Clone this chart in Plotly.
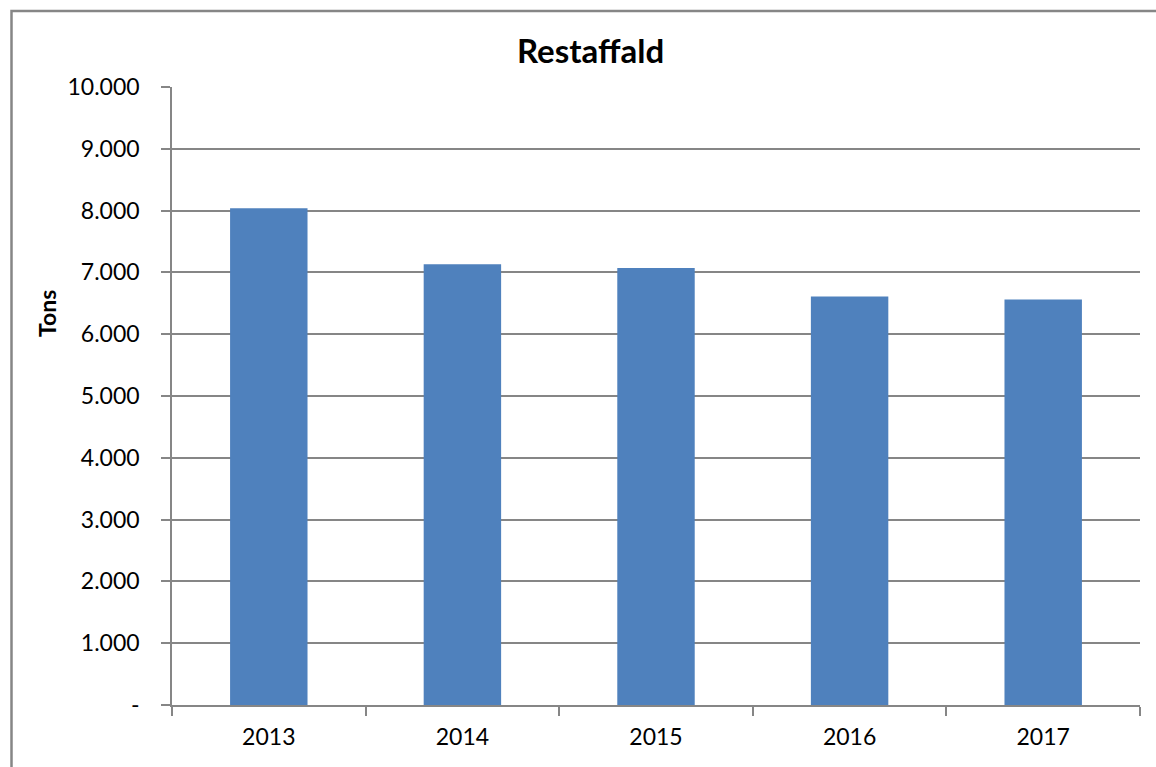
import plotly.graph_objects as go

years = ["2013", "2014", "2015", "2016", "2017"]
tons = [8040, 7130, 7070, 6610, 6560]
y_tickvals = [0, 1000, 2000, 3000, 4000, 5000, 6000, 7000, 8000, 9000, 10000]
y_ticktext = ["-", "1.000", "2.000", "3.000", "4.000", "5.000", "6.000", "7.000", "8.000", "9.000", "10.000"]

W, H = 1156, 767
L, R, T, B = 172, 16, 87, 62
pw, ph = W - L - R, H - T - B

def px_x(x):
    return (x - L) / pw

def px_y(y):
    return (H - B - y) / ph

fig = go.Figure(go.Bar(x=years, y=tons, marker=dict(color="#4F81BD", line=dict(width=0))))

font = "Lato, 'Liberation Sans', sans-serif"
fig.update_layout(
    width=W, height=H,
    margin=dict(l=L, r=R, t=T, b=B),
    paper_bgcolor="white", plot_bgcolor="white",
    bargap=0.6,
    showlegend=False,
    font=dict(family=font, size=23, color="#000000"),
)
fig.update_xaxes(
    type="category", tickson="boundaries", ticks="outside", ticklen=9,
    tickcolor="#868686", tickwidth=1.5,
    showline=True, linecolor="#868686", linewidth=1.5,
    showgrid=False, tickfont=dict(size=23), range=[-0.5, 4.5],
    ticklabelstandoff=11,
)
fig.update_yaxes(
    range=[0, 10000], tickmode="array", tickvals=y_tickvals, ticktext=y_ticktext,
    ticks="outside", ticklen=9, tickcolor="#868686", tickwidth=1.5,
    showline=True, linecolor="#868686", linewidth=1.5,
    showgrid=True, gridcolor="#868686", gridwidth=1.5,
    zeroline=False, tickfont=dict(size=23), ticklabelstandoff=17,
)
fig.add_annotation(
    text="<b>Restaffald</b>", xref="paper", yref="paper",
    x=px_x(590), y=px_y(50), showarrow=False,
    font=dict(family=font, size=33, color="#000000"), xanchor="center", yanchor="middle",
)
fig.add_annotation(
    text="<b>Tons</b>", xref="paper", yref="paper",
    x=px_x(47), y=px_y(314), showarrow=False, textangle=-90,
    font=dict(family=font, size=23, color="#000000"), xanchor="center", yanchor="middle",
)
fig.add_shape(
    type="rect", xref="paper", yref="paper",
    x0=px_x(11.5), x1=px_x(1200), y0=px_y(820), y1=px_y(11),
    line=dict(color="#868686", width=2.5), fillcolor="rgba(0,0,0,0)", layer="below",
)
fig.write_html(
    "out.html",
    config={"displayModeBar": False},
    post_script="document.body.style.margin='0';document.body.style.overflow='hidden';",
)
